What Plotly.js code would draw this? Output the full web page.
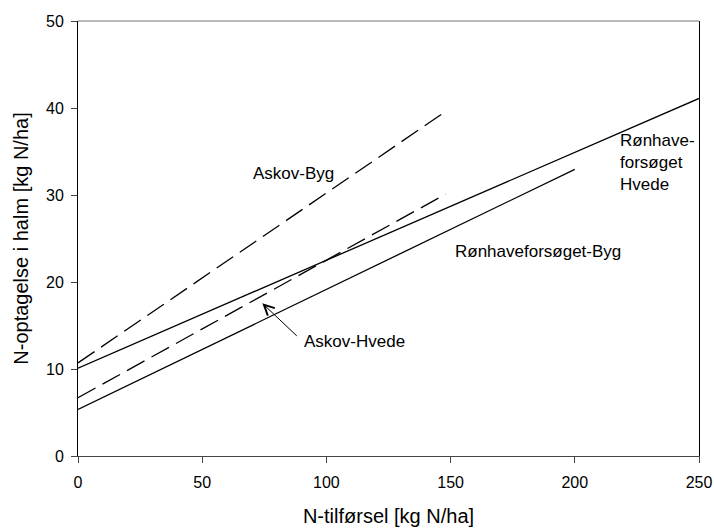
<!DOCTYPE html>
<html><head><meta charset="utf-8">
<script src="https://cdn.plot.ly/plotly-3.0.1.min.js"></script>
<style>html,body{margin:0;padding:0;background:#fff}#chart{width:714px;height:528px}</style>
</head><body><div id="chart"></div>
<script>
// Regression lines: endpoints
const ronhaveHvedeX = [0, 250];
const ronhaveHvedeY = [10.1, 41.1];
const ronhaveBygX = [0, 200];
const ronhaveBygY = [5.35, 32.95];
const askovBygX = [0, 148];
const askovBygY = [10.7, 39.6];
const askovHvedeX = [0, 148];
const askovHvedeY = [6.7, 30.1];
const xTicks = [0, 50, 100, 150, 200, 250];
const yTicks = [0, 10, 20, 30, 40, 50];

const solid = {color: '#000', width: 1.3};
const dashed = {color: '#000', width: 1.3, dash: '20px,8px'};
const traces = [
  {x: ronhaveHvedeX, y: ronhaveHvedeY, mode: 'lines', line: solid, name: 'Rønhaveforsøget Hvede'},
  {x: ronhaveBygX, y: ronhaveBygY, mode: 'lines', line: solid, name: 'Rønhaveforsøget-Byg'},
  {x: askovBygX, y: askovBygY, mode: 'lines', line: dashed, name: 'Askov-Byg'},
  {x: askovHvedeX, y: askovHvedeY, mode: 'lines', line: dashed, name: 'Askov-Hvede'}
];
const font = {family: 'Liberation Sans, Arial, sans-serif', size: 16, color: '#000'};
const layout = {
  width: 714, height: 528,
  margin: {l: 78, r: 15, t: 21, b: 72},
  paper_bgcolor: '#fff', plot_bgcolor: '#fff',
  showlegend: false,
  font: font,
  xaxis: {range: [0, 250], tickvals: xTicks, showgrid: false, zeroline: false,
    showline: true, linecolor: '#444', linewidth: 1, ticks: 'outside', ticklen: 6, tickcolor: '#444',
    ticklabelstandoff: 6,
    tickfont: {size: 16}, title: {text: 'N-tilførsel [kg N/ha]', font: {size: 20}, standoff: 18}},
  yaxis: {range: [0, 50], tickvals: yTicks, showgrid: false, zeroline: false,
    showline: true, mirror: true, linecolor: '#000', linewidth: 1, ticks: 'outside', ticklen: 6, tickcolor: '#444',
    ticklabelstandoff: 4,
    tickfont: {size: 16}, title: {text: 'N-optagelse i halm [kg N/ha]', font: {size: 20}, standoff: 12}},
  shapes: [{type: 'line', xref: 'paper', yref: 'paper', x0: 0, x1: 1, y0: 1, y1: 1, line: {color: '#777', width: 1}}],
  annotations: [
    {x: 86.8, y: 32.5, text: 'Askov-Byg', showarrow: false, font: {size: 17}},
    {x: 111.5, y: 13.2, text: 'Askov-Hvede', showarrow: false, font: {size: 17}},
    {x: 74.2, y: 17.55, text: '', showarrow: true, ax: 36, ay: 34, arrowhead: 5, arrowsize: 2, arrowwidth: 1, arrowcolor: '#000'},
    {x: 185.2, y: 23.5, text: 'Rønhaveforsøget-Byg', showarrow: false, font: {size: 17}},
    {x: 217.4, y: 33.7, text: 'Rønhave-<br>forsøget<br>Hvede', showarrow: false, align: 'left', xanchor: 'left', yanchor: 'middle', font: {size: 17}}
  ]
};
Plotly.newPlot('chart', traces, layout, {displayModeBar: false, staticPlot: true});
</script></body></html>
